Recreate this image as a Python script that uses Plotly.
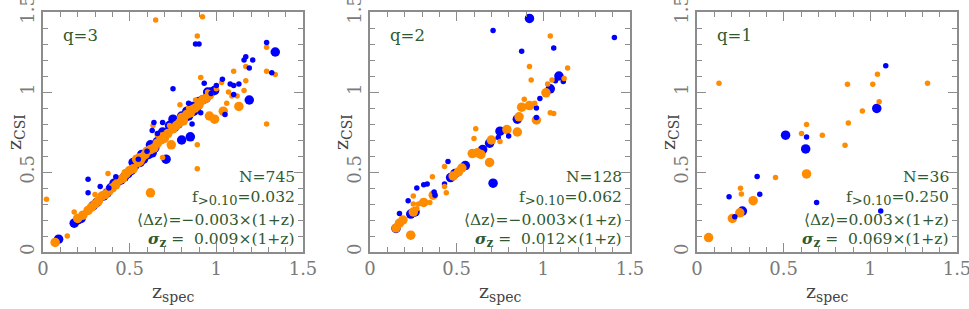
import plotly.graph_objects as go

# colores y estilo
ORANGE = "#ff8c00"
BLUE = "#0000ff"
GREEN = "#2f5a2f"
FRAME = "#8c8c8c"
FONT = "DejaVu Serif"

# ---------------- q=3 ----------------
q3_orange_big_x = [0.07,0.20,0.23,0.26,0.28,0.30,0.32,0.34,0.36,0.38,0.40,0.42,0.44,0.46,0.48,0.50,0.52,0.54,0.55,0.57,
                   0.59,0.60,0.62,0.64,0.66,0.68,0.70,0.72,0.74,0.75,0.77,0.79,0.81,0.83,0.85,0.86,0.88,0.90,0.92,0.94,
                   0.96,0.96,0.99,1.04,1.13,0.62,0.80,0.69,0.56]
q3_orange_big_y = [0.06,0.21,0.23,0.26,0.28,0.30,0.32,0.35,0.36,0.38,0.40,0.42,0.45,0.46,0.49,0.51,0.52,0.58,0.56,0.59,
                   0.61,0.63,0.64,0.65,0.68,0.70,0.71,0.74,0.67,0.77,0.79,0.81,0.82,0.86,0.87,0.89,0.90,0.92,0.95,0.96,
                   0.98,0.85,0.83,0.88,0.91,0.37,0.84,0.72,0.57]
q3_blue_big_x = [0.09,0.18,0.20,0.22,0.29,0.31,0.35,0.37,0.39,0.41,0.43,0.45,0.47,0.51,0.53,0.56,0.58,0.61,0.645,0.67,
                 0.70,0.72,0.75,0.76,0.78,0.80,0.82,0.84,0.85,0.87,0.89,0.92,0.94,0.97,0.99,0.71,1.19,1.34,0.63,0.49,
                 0.66,0.69,0.73,0.80,0.83,0.86,0.90,0.95,0.62,0.57,0.52]
q3_blue_big_y = [0.08,0.18,0.20,0.21,0.29,0.31,0.35,0.37,0.40,0.43,0.44,0.45,0.47,0.51,0.54,0.56,0.58,0.61,0.65,0.70,
                 0.72,0.75,0.83,0.78,0.80,0.70,0.84,0.85,0.72,0.88,0.91,0.95,0.96,1.00,1.01,0.58,0.95,1.25,0.62,0.49,
                 0.69,0.75,0.79,0.85,0.88,0.91,0.94,1.00,0.67,0.61,0.56]
q3_orange_small_x = [0.65,0.92,0.89,1.29,1.17,1.29,1.34,1.10,0.91,1.17,1.16,1.12,1.09,0.88,0.79,1.29,0.635,0.89,0.69,0.89,
                     0.375,0.30,0.02,0.18,0.14,1.03,1.00,0.95,1.06,0.73,0.66,0.43,0.47,0.27,0.55,1.07,0.84,0.24]
q3_orange_small_y = [1.45,1.47,1.35,1.28,1.16,1.13,1.11,1.13,1.09,1.07,1.01,0.975,0.975,0.95,0.92,0.80,0.79,0.67,0.59,0.52,
                     0.49,0.36,0.33,0.25,0.10,1.06,1.02,1.00,0.93,0.79,0.73,0.45,0.50,0.28,0.60,1.00,0.90,0.24]
q3_blue_small_x = [0.88,0.90,1.29,1.17,1.16,1.21,1.19,1.32,0.93,1.035,0.75,1.08,1.10,1.13,1.10,1.05,0.64,0.69,0.63,0.66,
                   0.26,0.33,0.26,1.00,0.97,0.84,0.60,0.55,0.38,0.42,0.86,0.91]
q3_blue_small_y = [1.30,1.30,1.31,1.22,1.20,1.20,1.15,1.12,1.055,1.08,1.02,1.05,1.04,1.05,0.985,0.86,0.81,0.81,0.76,0.74,
                   0.455,0.41,0.37,1.04,0.99,0.93,0.63,0.58,0.40,0.47,0.80,0.87]

# ---------------- q=2 ----------------
q2_blue_big_x = [0.92,1.09,1.04,0.85,0.75,0.69,0.65,0.55,0.49,0.465,0.71,0.26,0.235,0.15]
q2_blue_big_y = [1.46,1.10,1.02,0.83,0.755,0.68,0.64,0.54,0.49,0.465,0.43,0.25,0.237,0.147]
q2_orange_big_x = [1.015,0.92,0.875,0.96,0.86,0.79,0.85,0.70,0.62,0.59,0.64,0.69,0.53,0.51,0.48,0.365,0.31,0.19,0.17,0.15,0.235,0.25]
q2_orange_big_y = [0.995,0.915,0.905,0.825,0.845,0.765,0.75,0.70,0.62,0.615,0.61,0.56,0.525,0.50,0.475,0.355,0.31,0.20,0.18,0.15,0.105,0.25]
q2_orange_small_x = [1.04,0.92,1.14,0.93,1.05,1.12,1.025,0.95,0.89,1.04,1.06,0.61,0.60,0.75,0.43,0.36,0.43,0.44,0.25,0.25,0.28,0.345,0.27]
q2_orange_small_y = [1.35,1.16,1.15,1.075,1.075,1.085,1.05,0.93,0.955,0.87,0.865,0.77,0.71,0.69,0.535,0.47,0.41,0.37,0.35,0.30,0.30,0.31,0.27]
q2_blue_small_x = [0.71,1.41,0.875,1.06,1.07,1.115,0.98,0.96,0.96,0.74,0.80,0.45,0.33,0.31,0.43,0.27,0.37,0.375,0.22,0.17]
q2_blue_small_y = [1.385,1.34,1.255,1.275,1.07,1.065,0.96,0.90,0.84,0.715,0.725,0.565,0.425,0.42,0.425,0.40,0.375,0.355,0.32,0.24]

# ---------------- q=1 ----------------
q1_orange_small_x = [0.127,1.041,0.868,1.014,1.33,1.051,0.954,0.873,0.632,0.603,0.723,0.854,0.453,0.251,0.256]
q1_orange_small_y = [1.055,1.111,1.048,1.048,1.055,0.939,0.881,0.807,0.797,0.74,0.73,0.667,0.465,0.398,0.363]
q1_orange_big_x = [0.632,0.324,0.247,0.204,0.067]
q1_orange_big_y = [0.488,0.321,0.245,0.21,0.09]
q1_blue_small_x = [1.089,0.632,0.347,0.362,0.185,0.69,1.06,0.218]
q1_blue_small_y = [1.164,0.719,0.472,0.361,0.346,0.31,0.256,0.22]
q1_blue_big_x = [1.037,0.511,0.627,0.262]
q1_blue_big_y = [0.897,0.73,0.644,0.256]

# etiquetas
panel_q = ["q=3", "q=2", "q=1"]
panel_N = ["N=745", "N=128", "N=36"]
panel_f = ["0.032", "0.062", "0.250"]
panel_dz = ["−0.003", "−0.003", "0.003"]
panel_sig = ["0.009", "0.012", "0.069"]

BIG, SMALL = 9.5, 5.5
paneles = [
    [(q3_blue_big_x, q3_blue_big_y, BLUE, BIG), (q3_orange_big_x, q3_orange_big_y, ORANGE, BIG),
     (q3_orange_small_x, q3_orange_small_y, ORANGE, SMALL), (q3_blue_small_x, q3_blue_small_y, BLUE, SMALL)],
    [(q2_blue_big_x, q2_blue_big_y, BLUE, BIG), (q2_orange_big_x, q2_orange_big_y, ORANGE, BIG),
     (q2_blue_small_x, q2_blue_small_y, BLUE, SMALL), (q2_orange_small_x, q2_orange_small_y, ORANGE, SMALL)],
    [(q1_blue_big_x, q1_blue_big_y, BLUE, BIG), (q1_orange_big_x, q1_orange_big_y, ORANGE, BIG),
     (q1_blue_small_x, q1_blue_small_y, BLUE, SMALL), (q1_orange_small_x, q1_orange_small_y, ORANGE, SMALL)],
]

W, H = 969, 309
left_px = [43, 370, 697]
pw = 260
top_px, bot_px = 12, 252

fig = go.Figure()
annots = []
for i, trazas in enumerate(paneles):
    n = "" if i == 0 else str(i + 1)
    for (xs, ys, col, sz) in trazas:
        fig.add_trace(go.Scatter(x=xs, y=ys, mode="markers", xaxis="x" + n, yaxis="y" + n,
                                 marker=dict(color=col, size=sz, line=dict(width=0)), showlegend=False))
    ax = dict(range=[0, 1.5], domain=[left_px[i] / W, (left_px[i] + pw) / W],
              tickvals=[0, 0.5, 1, 1.5], ticktext=["0", "0.5", "1", "1.5"],
              ticks="inside", ticklen=9, tickcolor=FRAME, tickwidth=1,
              minor=dict(dtick=0.1, ticks="inside", ticklen=5, tickcolor=FRAME, tickwidth=1),
              showline=True, linecolor=FRAME, linewidth=1.5, mirror="allticks",
              showgrid=False, zeroline=False, automargin=False, ticklabeloverflow="allow",
              tickfont=dict(family=FONT, size=18, color="#7a7a7a"), anchor="y" + n)
    ay = dict(ax)
    ay.update(domain=[1 - bot_px / H, 1 - top_px / H], anchor="x" + n, tickangle=-90)
    fig.update_layout(**{"xaxis" + n: ax, "yaxis" + n: ay})

    xr, yr = "x" + n + " domain", "y" + n + " domain"
    tf = dict(family=FONT, size=15.5, color=GREEN)
    annots.append(dict(text=panel_q[i], xref=xr, yref=yr, x=0.07, y=0.9, xanchor="left",
                       yanchor="middle", showarrow=False, font=dict(family=FONT, size=16.5, color=GREEN)))
    lines = [panel_N[i],
             "f<sub><span style='font-size:13px'>>0.10</span></sub>=" + panel_f[i],
             "⟨Δz⟩=" + panel_dz[i] + "×(1+z)",
             "<b><i>σ</i><sub><span style='font-size:12px'>z</span></sub></b>\u00a0=\u00a0\u00a0" + panel_sig[i] + "×(1+z)"]
    ys_l = [0.314, 0.225, 0.133, 0.054]
    for t, yy in zip(lines, ys_l):
        annots.append(dict(text=t, xref=xr, yref=yr, x=0.977, y=yy, xanchor="right", yanchor="middle",
                           showarrow=False, font=tf))
    # títulos de ejes
    annots.append(dict(text="z<sub><span style='font-size:14px'>spec</span></sub>", xref="paper", yref="paper",
                       x=(left_px[i] + pw / 2) / W, y=1 - 292 / H, xanchor="center", yanchor="middle",
                       showarrow=False, font=dict(family=FONT, size=19, color="#444444")))
    annots.append(dict(text="z<sub><span style='font-size:14px'>CSI</span></sub>", xref="paper", yref="paper",
                       x=(left_px[i] - 28) / W, y=1 - 132 / H, xanchor="center", yanchor="middle",
                       textangle=-90, showarrow=False, font=dict(family=FONT, size=19, color="#444444")))

fig.update_layout(width=W, height=H, margin=dict(l=0, r=0, t=0, b=0),
                  plot_bgcolor="white", paper_bgcolor="white", annotations=annots)

fig.write_html("out.html", config={"displayModeBar": False},
               post_script="document.body.style.margin='0px';")
